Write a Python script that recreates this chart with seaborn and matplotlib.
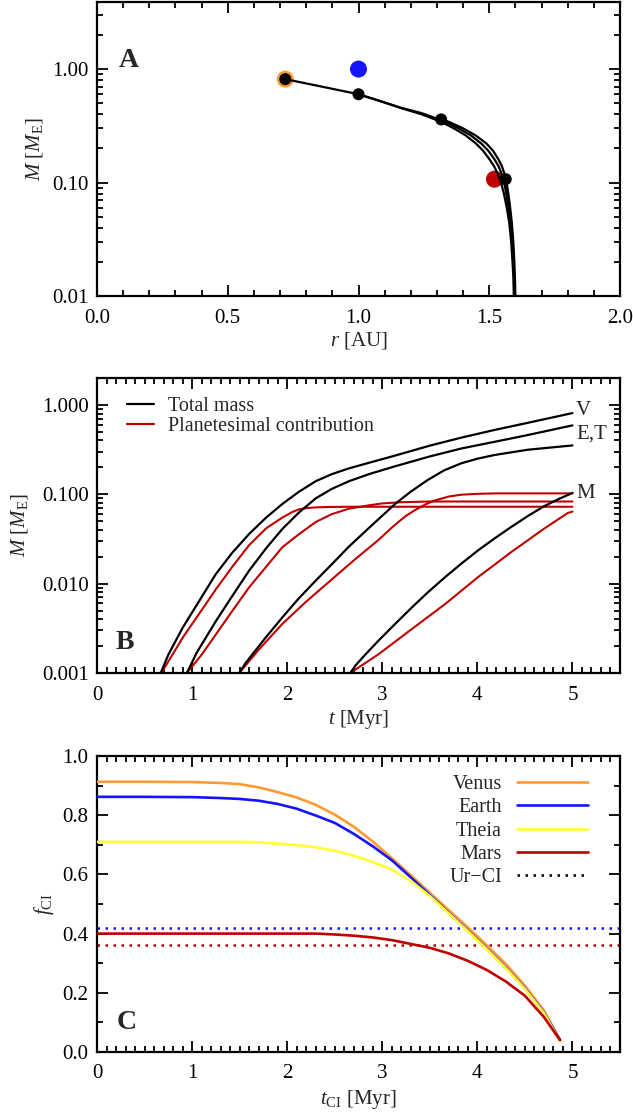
import numpy as np
import pandas as pd
import matplotlib
matplotlib.use("Agg")
import matplotlib.pyplot as plt
import seaborn as sns
from matplotlib.ticker import MultipleLocator, FixedLocator, NullFormatter, FixedFormatter, LogLocator
from matplotlib.lines import Line2D

# ---------------- Panel A data: mass vs. heliocentric distance tracks ----------------
trackV_M = [0.01, 0.015, 0.02, 0.03, 0.045, 0.06, 0.08, 0.1, 0.12, 0.14, 0.16, 0.19, 0.22, 0.26, 0.30, 0.343, 0.40, 0.455, 0.525, 0.60, 0.70, 0.815]
trackV_r = [1.594, 1.592, 1.589, 1.584, 1.576, 1.567, 1.556, 1.545, 1.532, 1.518, 1.501, 1.477, 1.45, 1.41, 1.365, 1.316, 1.24, 1.16, 1.08, 1.0, 0.86, 0.72]
trackE_M = [0.01, 0.015, 0.02, 0.03, 0.045, 0.06, 0.08, 0.1, 0.12, 0.14, 0.16, 0.19, 0.22, 0.26, 0.30, 0.355, 0.41, 0.458, 0.525, 0.60]
trackE_r = [1.597, 1.595, 1.592, 1.588, 1.581, 1.574, 1.565, 1.557, 1.547, 1.535, 1.52, 1.497, 1.47, 1.43, 1.383, 1.316, 1.24, 1.16, 1.08, 1.0]
trackT_M = [0.01, 0.015, 0.02, 0.03, 0.045, 0.06, 0.08, 0.1, 0.12, 0.14, 0.16, 0.19, 0.22, 0.26, 0.30, 0.335, 0.365]
trackT_r = [1.60, 1.598, 1.596, 1.592, 1.586, 1.58, 1.573, 1.566, 1.558, 1.548, 1.535, 1.515, 1.49, 1.448, 1.40, 1.355, 1.316]
trackM_M = [0.01, 0.015, 0.02, 0.03, 0.045, 0.06, 0.08, 0.095, 0.107]
trackM_r = [1.597, 1.595, 1.593, 1.589, 1.583, 1.578, 1.571, 1.566, 1.563]
end_r = [0.72, 1.0, 1.316, 1.563]
end_M = [0.815, 0.60, 0.36, 0.107]
planet_names = ["Venus", "Earth", "Mars"]
planet_r = [0.72, 1.0, 1.52]
planet_M = [0.815, 1.0, 0.107]

# ---------------- Panel B data: growth curves ----------------
totV_t = [0.67, 0.75, 0.9, 1.05, 1.25, 1.42, 1.6, 1.78, 1.95, 2.12, 2.3, 2.47, 2.65, 2.86, 3.13, 3.5, 3.83, 4.2, 4.53, 5.0]
totV_M = [0.001, 0.0016, 0.0032, 0.0058, 0.0128, 0.022, 0.036, 0.055, 0.078, 0.106, 0.14, 0.168, 0.195, 0.225, 0.27, 0.35, 0.43, 0.53, 0.63, 0.81]
totE_t = [0.945, 1.05, 1.25, 1.42, 1.6, 1.78, 1.95, 2.12, 2.3, 2.47, 2.65, 2.86, 3.13, 3.5, 3.83, 4.2, 4.53, 5.0]
totE_M = [0.001, 0.0017, 0.0038, 0.0072, 0.014, 0.025, 0.041, 0.062, 0.09, 0.115, 0.14, 0.168, 0.205, 0.265, 0.325, 0.39, 0.46, 0.59]
tot3_t = [1.496, 1.56, 1.65, 1.775, 1.95, 2.12, 2.3, 2.47, 2.65, 2.86, 3.135, 3.3, 3.48, 3.65, 3.83, 4.0, 4.18, 4.53, 5.0]
tot3_M = [0.001, 0.00128, 0.0017, 0.0025, 0.0042, 0.0068, 0.0108, 0.0165, 0.026, 0.042, 0.078, 0.107, 0.145, 0.185, 0.222, 0.25, 0.275, 0.315, 0.352]
totM_t = [2.664, 2.72, 2.82, 2.96, 3.13, 3.31, 3.48, 3.66, 3.83, 4.006, 4.18, 4.355, 4.53, 4.70, 4.85, 5.0]
totM_M = [0.001, 0.00122, 0.0016, 0.0023, 0.0035, 0.0054, 0.008, 0.0118, 0.0167, 0.0235, 0.032, 0.043, 0.057, 0.0733, 0.088, 0.1035]

plaV_t = [0.677, 0.903, 1.08, 1.252, 1.43, 1.6, 1.78, 1.95, 2.05, 2.12, 2.2, 2.3, 2.45, 2.65, 5.0]
plaV_M = [0.001, 0.0025, 0.0047, 0.0087, 0.0158, 0.027, 0.0417, 0.055, 0.063, 0.0676, 0.070, 0.0713, 0.0721, 0.0725, 0.0725]
plaE_t = [0.945, 1.1, 1.252, 1.42, 1.6, 1.78, 1.95, 2.12, 2.3, 2.47, 2.65, 2.86, 3.0, 3.2, 3.5, 5.0]
plaE_M = [0.001, 0.0016, 0.00272, 0.0049, 0.0091, 0.0155, 0.0256, 0.0355, 0.0489, 0.060, 0.069, 0.0752, 0.079, 0.0815, 0.083, 0.083]
pla3_t = [1.496, 1.7, 1.95, 2.2, 2.45, 2.7, 2.95, 3.135, 3.25, 3.34, 3.45, 3.55, 3.7, 3.83, 4.0, 4.2, 5.0]
pla3_M = [0.001, 0.00182, 0.00355, 0.0063, 0.0107, 0.0182, 0.0302, 0.0457, 0.0575, 0.0661, 0.0767, 0.0851, 0.0944, 0.0989, 0.1012, 0.1023, 0.1023]
plaM_t = [2.664, 2.96, 3.31, 3.66, 4.006, 4.355, 4.70, 4.95, 5.0]
plaM_M = [0.001, 0.00162, 0.0031, 0.0059, 0.0118, 0.0225, 0.0411, 0.0617, 0.064]

endlabels = ["V", "E,T", "M"]
endlabel_M = [0.86, 0.47, 0.102]

# ---------------- Panel C data: CI fraction vs. t_CI ----------------
tci = [0.0, 0.5, 1.0, 1.3, 1.5, 1.7, 1.9, 2.1, 2.3, 2.5, 2.7, 2.9, 3.1, 3.3, 3.5, 3.7, 3.9, 4.1, 4.3, 4.5, 4.7, 4.87]
f_venus = [0.913, 0.913, 0.912, 0.909, 0.905, 0.894, 0.878, 0.860, 0.835, 0.802, 0.761, 0.711, 0.655, 0.597, 0.538, 0.479, 0.421, 0.360, 0.297, 0.224, 0.140, 0.040]
f_earth = [0.862, 0.862, 0.861, 0.858, 0.855, 0.849, 0.838, 0.822, 0.799, 0.774, 0.737, 0.695, 0.648, 0.590, 0.530, 0.470, 0.410, 0.349, 0.285, 0.215, 0.133, 0.040]
f_theia = [0.710, 0.710, 0.710, 0.710, 0.710, 0.708, 0.704, 0.699, 0.692, 0.680, 0.663, 0.642, 0.616, 0.578, 0.527, 0.468, 0.408, 0.347, 0.283, 0.213, 0.131, 0.036]
f_mars = [0.400, 0.400, 0.400, 0.400, 0.400, 0.400, 0.400, 0.400, 0.400, 0.397, 0.393, 0.387, 0.378, 0.365, 0.352, 0.333, 0.308, 0.277, 0.238, 0.190, 0.118, 0.040]
urci_earth = 0.42
urci_mars = 0.36

# ---------------- style ----------------
sns.set_style("ticks")
plt.rcParams['font.family'] = ['Liberation Serif', 'DejaVu Serif']
plt.rcParams['mathtext.fontset'] = 'custom'
plt.rcParams['mathtext.rm'] = 'Liberation Serif'
plt.rcParams['mathtext.it'] = 'Liberation Serif:italic'
plt.rcParams['mathtext.bf'] = 'Liberation Serif:bold'

C_VENUS = '#FF9933'
C_EARTH = '#1414FF'
C_THEIA = '#FFFF33'
C_MARS = '#C00000'
FS = 15

fig = plt.figure(figsize=(6.33, 11.16), dpi=100)
W, H = 633, 1116
def axrect(l, t, r, b):
    return [l / W, 1 - b / H, (r - l) / W, (b - t) / H]

axA = fig.add_axes(axrect(97, 2, 620, 296))
axB = fig.add_axes(axrect(97, 378, 620, 673))
axC = fig.add_axes(axrect(97, 756, 620, 1052))

def style(ax):
    for s in ax.spines.values():
        s.set_linewidth(1.6)
        s.set_color('black')
    ax.tick_params(which='both', direction='in', top=True, right=True, colors='black',
                   labelsize=FS, width=1.3)
    ax.tick_params(which='major', length=8)
    ax.tick_params(which='minor', length=4)
    ax.tick_params(axis='x', pad=9)
    ax.tick_params(axis='y', pad=6)
    ax.set_facecolor('white')

def line(ax, x, y, color, lw=1.6, **kw):
    sns.lineplot(x=x, y=y, ax=ax, color=color, linewidth=lw, sort=False, estimator=None, **kw)

# ---------------- Panel A ----------------
sns.scatterplot(x=[planet_r[0]], y=[planet_M[0]], ax=axA, s=150, color=C_VENUS, edgecolor='none', zorder=2)
sns.scatterplot(x=[planet_r[1]], y=[planet_M[1]], ax=axA, s=150, color=C_EARTH, edgecolor='none', zorder=2)
sns.scatterplot(x=[planet_r[2]], y=[planet_M[2]], ax=axA, s=150, color=C_MARS, edgecolor='none', zorder=2)
for rr, mm in [(trackV_r, trackV_M), (trackE_r, trackE_M), (trackT_r, trackT_M), (trackM_r, trackM_M)]:
    line(axA, rr, mm, 'black', lw=1.6, zorder=3)
sns.scatterplot(x=end_r, y=end_M, ax=axA, s=75, color='black', edgecolor='none', zorder=4)
axA.set_yscale('log')
axA.set_xlim(0, 2.0)
axA.set_ylim(0.01, 3.9)
axA.xaxis.set_major_locator(MultipleLocator(0.5))
axA.xaxis.set_minor_locator(MultipleLocator(0.1))
axA.xaxis.set_major_formatter(matplotlib.ticker.FormatStrFormatter('%.1f'))
axA.yaxis.set_major_locator(FixedLocator([0.01, 0.1, 1.0]))
axA.yaxis.set_major_formatter(FixedFormatter(['0.01', '0.10', '1.00']))
axA.yaxis.set_minor_locator(LogLocator(base=10, subs=np.arange(2, 10)))
axA.yaxis.set_minor_formatter(NullFormatter())
style(axA)
axA.set_xlabel(r'$r$ [AU]', fontsize=FS)
axA.set_ylabel(r'$M$ [$M_{\rm E}$]', fontsize=FS)
axA.xaxis.set_label_coords(0.5, -0.115)
axA.yaxis.set_label_coords(-0.10, 0.5)
axA.text(0.06, 0.80, 'A', transform=axA.transAxes, fontsize=20, fontweight='bold', ha='center', va='center')

# ---------------- Panel B ----------------
for tt, mm in [(totV_t, totV_M), (totE_t, totE_M), (tot3_t, tot3_M), (totM_t, totM_M)]:
    line(axB, tt, mm, 'black', lw=1.6, zorder=3)
for tt, mm in [(plaV_t, plaV_M), (plaE_t, plaE_M), (pla3_t, pla3_M), (plaM_t, plaM_M)]:
    line(axB, tt, mm, C_MARS, lw=1.5, zorder=2)
axB.set_yscale('log')
axB.set_xlim(0, 5.5)
axB.set_ylim(0.001, 2.0)
axB.xaxis.set_major_locator(MultipleLocator(1))
axB.xaxis.set_minor_locator(MultipleLocator(0.1))
axB.yaxis.set_major_locator(FixedLocator([0.001, 0.01, 0.1, 1.0]))
axB.yaxis.set_major_formatter(FixedFormatter(['0.001', '0.010', '0.100', '1.000']))
axB.yaxis.set_minor_locator(LogLocator(base=10, subs=np.arange(2, 10)))
axB.yaxis.set_minor_formatter(NullFormatter())
style(axB)
axB.set_xlabel(r'$t$ [Myr]', fontsize=FS)
axB.set_ylabel(r'$M$ [$M_{\rm E}$]', fontsize=FS)
axB.xaxis.set_label_coords(0.5, -0.118)
axB.yaxis.set_label_coords(-0.128, 0.5)
for lab, ym in zip(endlabels, endlabel_M):
    axB.text(5.04, ym, lab, fontsize=FS, ha='left', va='center')
handlesB = [Line2D([], [], color='black', lw=1.6), Line2D([], [], color=C_MARS, lw=1.6)]
axB.legend(handlesB, ['Total mass', 'Planetesimal contribution'], loc='upper left',
           bbox_to_anchor=(0.058, 0.935), frameon=False, fontsize=14.5, handlelength=1.3,
           handletextpad=0.7, labelspacing=0.05, borderpad=0, borderaxespad=0)
axB.text(0.054, 0.105, 'B', transform=axB.transAxes, fontsize=20, fontweight='bold', ha='center', va='center')

# ---------------- Panel C ----------------
line(axC, tci, f_venus, C_VENUS, lw=1.9, zorder=3)
line(axC, tci, f_earth, C_EARTH, lw=1.9, zorder=3)
line(axC, tci, f_theia, C_THEIA, lw=1.9, zorder=3)
line(axC, tci, f_mars, C_MARS, lw=1.9, zorder=3)
axC.axhline(urci_earth, color=C_EARTH, lw=1.8, ls=(0, (1, 2.2)), zorder=2)
axC.axhline(urci_mars, color=C_MARS, lw=1.8, ls=(0, (1, 2.2)), zorder=2)
axC.set_xlim(0, 5.5)
axC.set_ylim(0, 1.0)
axC.xaxis.set_major_locator(MultipleLocator(1))
axC.xaxis.set_minor_locator(MultipleLocator(0.1))
axC.yaxis.set_major_locator(MultipleLocator(0.2))
axC.yaxis.set_minor_locator(MultipleLocator(0.1))
axC.yaxis.set_major_formatter(matplotlib.ticker.FormatStrFormatter('%.1f'))
style(axC)
axC.set_xlabel(r'$t_{\rm CI}$ [Myr]', fontsize=FS)
axC.set_ylabel(r'$f_{\rm CI}$', fontsize=FS)
axC.xaxis.set_label_coords(0.5, -0.122)
axC.yaxis.set_label_coords(-0.078, 0.5)
handlesC = [Line2D([], [], color=C_VENUS, lw=1.9), Line2D([], [], color=C_EARTH, lw=1.9),
            Line2D([], [], color=C_THEIA, lw=1.9), Line2D([], [], color=C_MARS, lw=1.9),
            Line2D([], [], color='black', lw=1.8, ls=(0, (1, 2.2)))]
axC.legend(handlesC, ['Venus', 'Earth', 'Theia', 'Mars', 'Ur\u2212CI'], loc='upper right',
           bbox_to_anchor=(0.938, 0.935), frameon=False, fontsize=14.5, handlelength=3.5,
           handletextpad=0.75, labelspacing=0.2, borderpad=0, borderaxespad=0, markerfirst=False)
axC.text(0.057, 0.10, 'C', transform=axC.transAxes, fontsize=20, fontweight='bold', ha='center', va='center')

fig.savefig('out.png', dpi=100, facecolor='white')
